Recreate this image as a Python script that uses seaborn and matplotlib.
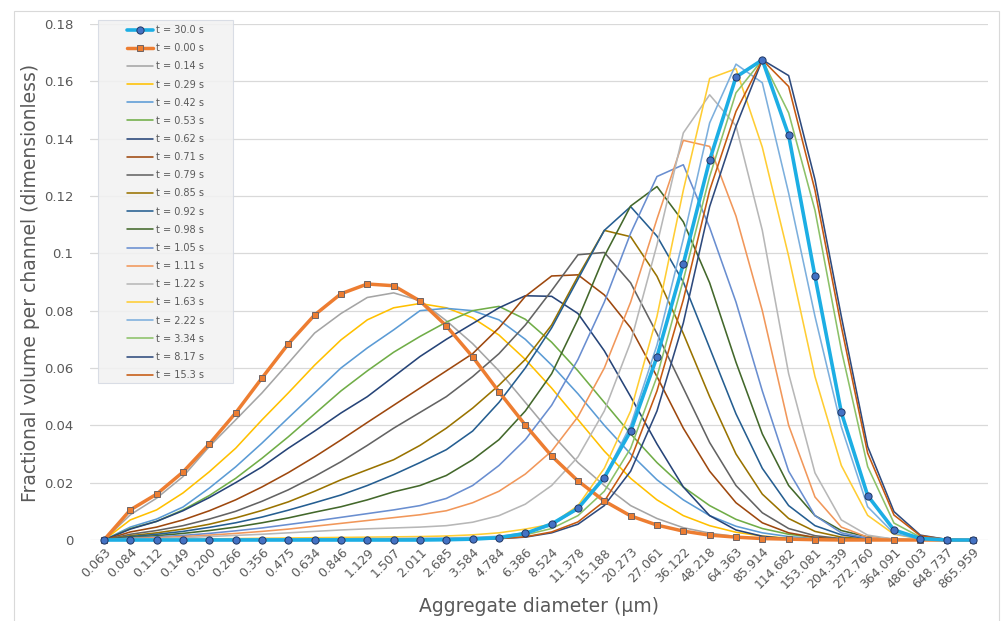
import matplotlib
matplotlib.use("Agg")
import matplotlib.pyplot as plt
from matplotlib.patches import Rectangle
import seaborn as sns

# channel diameters (um) - category axis
diameters = ["0.063", "0.084", "0.112", "0.149", "0.200", "0.266", "0.356", "0.475",
             "0.634", "0.846", "1.129", "1.507", "2.011", "2.685", "3.584", "4.784",
             "6.386", "8.524", "11.378", "15.188", "20.273", "27.061", "36.122", "48.218",
             "64.363", "85.914", "114.682", "153.081", "204.339", "272.760", "364.091",
             "486.003", "648.737", "865.959"]

y_ticks = [0, 0.02, 0.04, 0.06, 0.08, 0.1, 0.12, 0.14, 0.16, 0.18]
y_tick_labels = ["0", "0.02", "0.04", "0.06", "0.08", "0.1", "0.12", "0.14", "0.16", "0.18"]

series_labels = ["t = 30.0 s", "t = 0.00 s", "t = 0.14 s", "t = 0.29 s", "t = 0.42 s",
                 "t = 0.53 s", "t = 0.62 s", "t = 0.71 s", "t = 0.79 s", "t = 0.85 s",
                 "t = 0.92 s", "t = 0.98 s", "t = 1.05 s", "t = 1.11 s", "t = 1.22 s",
                 "t = 1.63 s", "t = 2.22 s", "t = 3.34 s", "t = 8.17 s", "t = 15.3 s"]

# fractional volume per channel, one list per time
t_30_0 = [0, 0, 0, 0, 0, 0, 0, 0, 0, 0, 0, 0, 0, 0.0001, 0.0003, 0.0008, 0.0023, 0.0056, 0.011,
          0.0218, 0.038, 0.0639, 0.0963, 0.1325, 0.1615, 0.1675, 0.1412, 0.092, 0.0445, 0.0155,
          0.0035, 0.0005, 0, 0]
t_0_00 = [0, 0.0105, 0.016, 0.0237, 0.0335, 0.0443, 0.0565, 0.0684, 0.0785, 0.0859, 0.0893,
          0.0887, 0.0834, 0.0747, 0.0639, 0.0517, 0.0401, 0.0293, 0.0206, 0.0136, 0.0084, 0.0052,
          0.0031, 0.0017, 0.001, 0.0005, 0.0003, 0.0001, 0, 0, 0, 0, 0, 0]
t_0_14 = [0, 0.0088, 0.0146, 0.0221, 0.0326, 0.0419, 0.0513, 0.0617, 0.0722, 0.079, 0.0846,
          0.0862, 0.0835, 0.0765, 0.0685, 0.059, 0.048, 0.037, 0.027, 0.019, 0.012, 0.0075,
          0.0043, 0.0024, 0.0012, 0.0006, 0.0003, 0.0001, 0, 0, 0, 0, 0, 0]
t_0_29 = [0, 0.007, 0.0105, 0.0164, 0.0238, 0.032, 0.0419, 0.0513, 0.061, 0.0698, 0.0768, 0.081,
          0.0825, 0.081, 0.0775, 0.0715, 0.063, 0.053, 0.042, 0.031, 0.0215, 0.014, 0.0085, 0.005,
          0.0027, 0.0014, 0.0006, 0.0003, 0.0001, 0, 0, 0, 0, 0]
t_0_42 = [0, 0.0045, 0.0073, 0.0115, 0.0181, 0.0255, 0.0338, 0.0426, 0.0513, 0.06, 0.067, 0.0733,
          0.080, 0.0808, 0.080, 0.0768, 0.070, 0.061, 0.051, 0.040, 0.030, 0.021, 0.014, 0.0085,
          0.0048, 0.0025, 0.0012, 0.0005, 0.0002, 0, 0, 0, 0, 0]
t_0_53 = [0, 0.004, 0.0065, 0.0105, 0.0155, 0.0215, 0.0285, 0.036, 0.044, 0.052, 0.059, 0.0655,
          0.071, 0.076, 0.080, 0.0815, 0.077, 0.069, 0.059, 0.048, 0.037, 0.027, 0.0185, 0.012,
          0.0072, 0.004, 0.002, 0.0009, 0.0004, 0.0001, 0, 0, 0, 0]
t_0_62 = [0, 0.0038, 0.0065, 0.0102, 0.0148, 0.020, 0.0255, 0.032, 0.038, 0.0443, 0.050, 0.057,
          0.064, 0.070, 0.0755, 0.081, 0.0852, 0.085, 0.079, 0.066, 0.050, 0.0335, 0.0185, 0.0085,
          0.0035, 0.0013, 0.0004, 0.0001, 0, 0, 0, 0, 0, 0]
t_0_71 = [0, 0.0028, 0.0045, 0.007, 0.0102, 0.014, 0.0185, 0.0235, 0.029, 0.0349, 0.041, 0.047,
          0.053, 0.059, 0.065, 0.074, 0.085, 0.0921, 0.0925, 0.0855, 0.074, 0.057, 0.039, 0.024,
          0.013, 0.006, 0.0025, 0.0009, 0.0003, 0.0001, 0, 0, 0, 0]
t_0_79 = [0, 0.002, 0.0033, 0.005, 0.0073, 0.010, 0.0135, 0.0175, 0.0222, 0.0273, 0.033, 0.039,
          0.0445, 0.050, 0.057, 0.065, 0.075, 0.087, 0.0995, 0.1003, 0.0897, 0.072, 0.053, 0.034,
          0.019, 0.0095, 0.004, 0.0015, 0.0005, 0.0001, 0, 0, 0, 0]
t_0_85 = [0, 0.0015, 0.0025, 0.0038, 0.0055, 0.0077, 0.0103, 0.0133, 0.017, 0.021, 0.0245, 0.028,
          0.033, 0.039, 0.046, 0.054, 0.063, 0.075, 0.092, 0.108, 0.1058, 0.092, 0.072, 0.050,
          0.030, 0.016, 0.0075, 0.003, 0.001, 0.0003, 0, 0, 0, 0]
t_0_92 = [0, 0.0012, 0.002, 0.003, 0.0044, 0.006, 0.008, 0.0104, 0.013, 0.0157, 0.019, 0.0228,
          0.027, 0.0315, 0.038, 0.048, 0.060, 0.074, 0.091, 0.108, 0.1163, 0.106, 0.090, 0.067,
          0.044, 0.025, 0.012, 0.005, 0.0018, 0.0005, 0.0001, 0, 0, 0]
t_0_98 = [0, 0.0009, 0.0015, 0.0023, 0.0033, 0.0045, 0.006, 0.0077, 0.0097, 0.0116, 0.014, 0.0168,
          0.019, 0.0225, 0.028, 0.035, 0.045, 0.058, 0.077, 0.099, 0.1165, 0.1233, 0.111, 0.0897,
          0.062, 0.037, 0.019, 0.0085, 0.0033, 0.0011, 0.0003, 0, 0, 0]
t_1_05 = [0, 0.0007, 0.0011, 0.0016, 0.0023, 0.0032, 0.0042, 0.0054, 0.0066, 0.0079, 0.0092,
          0.0105, 0.012, 0.0145, 0.019, 0.026, 0.035, 0.047, 0.063, 0.083, 0.107, 0.1268, 0.1309,
          0.109, 0.083, 0.052, 0.024, 0.0085, 0.0025, 0.0006, 0.0001, 0, 0, 0]
t_1_11 = [0, 0.0005, 0.0008, 0.0012, 0.0017, 0.0023, 0.003, 0.0038, 0.0048, 0.0058, 0.0068,
          0.0078, 0.0088, 0.0102, 0.013, 0.017, 0.023, 0.031, 0.043, 0.060, 0.083, 0.112, 0.1394,
          0.1373, 0.113, 0.080, 0.040, 0.015, 0.0045, 0.001, 0.0002, 0, 0, 0]
t_1_22 = [0, 0.0003, 0.0005, 0.0008, 0.0012, 0.0016, 0.002, 0.0025, 0.003, 0.0035, 0.0039, 0.0042,
          0.0045, 0.005, 0.0062, 0.0085, 0.0125, 0.019, 0.029, 0.045, 0.069, 0.103, 0.142, 0.1553,
          0.1445, 0.108, 0.058, 0.0234, 0.007, 0.0017, 0.0003, 0, 0, 0]
t_1_63 = [0, 0.0001, 0.0002, 0.0003, 0.0004, 0.0005, 0.0006, 0.0007, 0.0008, 0.0009, 0.001,
          0.0011, 0.0012, 0.0014, 0.0018, 0.0025, 0.0038, 0.0055, 0.012, 0.025, 0.045, 0.078,
          0.122, 0.161, 0.1644, 0.137, 0.099, 0.057, 0.026, 0.0086, 0.002, 0.0004, 0, 0]
t_2_22 = [0, 0, 0.0001, 0.0001, 0.0002, 0.0002, 0.0003, 0.0003, 0.0004, 0.0004, 0.0005, 0.0005,
          0.0006, 0.0007, 0.0009, 0.0013, 0.0025, 0.005, 0.011, 0.022, 0.040, 0.068, 0.105,
          0.1455, 0.166, 0.1595, 0.121, 0.078, 0.0395, 0.0116, 0.0023, 0.0003, 0, 0]
t_3_34 = [0, 0, 0, 0, 0, 0.0001, 0.0001, 0.0001, 0.0002, 0.0002, 0.0002, 0.0003, 0.0003, 0.0004,
          0.0005, 0.0008, 0.0018, 0.004, 0.0085, 0.017, 0.032, 0.057, 0.0907, 0.1268, 0.156,
          0.1675, 0.149, 0.115, 0.0663, 0.0256, 0.0059, 0.001, 0.0001, 0]
t_8_17 = [0, 0, 0, 0, 0, 0, 0, 0, 0, 0, 0, 0.0001, 0.0001, 0.0002, 0.0003, 0.0005, 0.001, 0.0025,
          0.0055, 0.012, 0.024, 0.045, 0.0757, 0.1163, 0.1443, 0.1675, 0.162, 0.1257, 0.078,
          0.0326, 0.0099, 0.0017, 0.0002, 0]
t_15_3 = [0, 0, 0, 0, 0, 0, 0, 0, 0, 0, 0, 0.0001, 0.0001, 0.0002, 0.0003, 0.0005, 0.0011, 0.0028,
          0.0063, 0.0135, 0.028, 0.052, 0.0838, 0.122, 0.1495, 0.1675, 0.1582, 0.122, 0.0745,
          0.0303, 0.0087, 0.0015, 0.0002, 0]

all_series = [t_30_0, t_0_00, t_0_14, t_0_29, t_0_42, t_0_53, t_0_62, t_0_71, t_0_79, t_0_85,
              t_0_92, t_0_98, t_1_05, t_1_11, t_1_22, t_1_63, t_2_22, t_3_34, t_8_17, t_15_3]

palette = ["#1CAEE4", "#ED7D31", "#A5A5A5", "#FFC000", "#5B9BD5", "#70AD47", "#264478",
           "#9E480E", "#636363", "#997300", "#255E91", "#43682B", "#698ED0", "#F1975A",
           "#B7B7B7", "#FFCD33", "#7CAFDD", "#8CC168", "#2E4A7D", "#C55A11"]

sns.set_style("white")
plt.rcParams['font.family'] = ['DejaVu Sans']
text_col = "#595959"

W, H = 1001, 621
fig = plt.figure(figsize=(W / 100, H / 100), dpi=100)
ax = fig.add_axes([90 / W, 1 - 540 / H, (988 - 90) / W, (540 - 24) / H])

xpos = list(range(len(diameters)))
for i, (lab, vals, col) in enumerate(zip(series_labels, all_series, palette)):
    if i == 0:
        sns.lineplot(x=xpos, y=vals, ax=ax, color=col, linewidth=2.6, label=lab,
                     marker="o", markersize=5.2, markerfacecolor="#4472C4",
                     markeredgecolor="#203864", markeredgewidth=0.7, zorder=20, clip_on=False)
    elif i == 1:
        sns.lineplot(x=xpos, y=vals, ax=ax, color=col, linewidth=2.5, label=lab,
                     marker="s", markersize=4.6, markerfacecolor="#ED7D31",
                     markeredgecolor="#6F6464", markeredgewidth=0.7, zorder=19, clip_on=False)
    else:
        sns.lineplot(x=xpos, y=vals, ax=ax, color=col, linewidth=1.15, label=lab,
                     zorder=5, clip_on=False)

ax.set_xlim(-0.53, 33.57)
ax.set_ylim(0, 0.18)
ax.set_yticks(y_ticks)
ax.set_yticklabels(y_tick_labels)
ax.set_xticks(xpos)
ax.set_xticklabels(diameters, rotation=45, ha="right", va="top", rotation_mode="anchor")
ax.tick_params(axis="both", length=0, labelsize=9.5, labelcolor=text_col)
ax.tick_params(axis="x", labelsize=9, pad=4)
ax.tick_params(axis="y", pad=12)

ax.yaxis.grid(True, color="#D9D9D9", linewidth=0.9)
ax.xaxis.grid(False)
ax.set_axisbelow(True)
for s in ax.spines.values():
    s.set_visible(False)

ax.set_xlabel("Aggregate diameter (µm)", fontsize=13.5, color=text_col)
ax.xaxis.set_label_coords(0.5, -(607 - 540) / 516)
ax.xaxis.label.set_va("center")
ax.set_ylabel("Fractional volume per channel (dimensionless)", fontsize=13.5, color=text_col)
ax.yaxis.set_label_coords(-(90 - 31) / 898, (540 - 283) / 516)
ax.yaxis.label.set_va("center")

# legend panel
panel = Rectangle((98 / W, 1 - 383 / H), (233 - 98) / W, (383 - 20) / H,
                  transform=fig.transFigure, facecolor="#F2F2F2", edgecolor="#D5DAE3",
                  linewidth=0.8, alpha=0.88, zorder=25, clip_on=False)
ax.add_patch(panel)
leg = ax.legend(loc="upper left", bbox_to_anchor=(127 / W, 1 - 25 / H),
                bbox_transform=fig.transFigure, borderaxespad=0, borderpad=0, fontsize=7,
                frameon=False, handlelength=2.7, handletextpad=0.3, labelspacing=0.84)
leg.set_zorder(30)
for t in leg.get_texts():
    t.set_color(text_col)

fig.patches.append(Rectangle((14 / W, -0.01), (999 - 14) / W, 1.01 - 11 / H,
                             transform=fig.transFigure, fill=False, edgecolor="#D9D9D9",
                             linewidth=0.8))

fig.savefig("out.png", dpi=100)
